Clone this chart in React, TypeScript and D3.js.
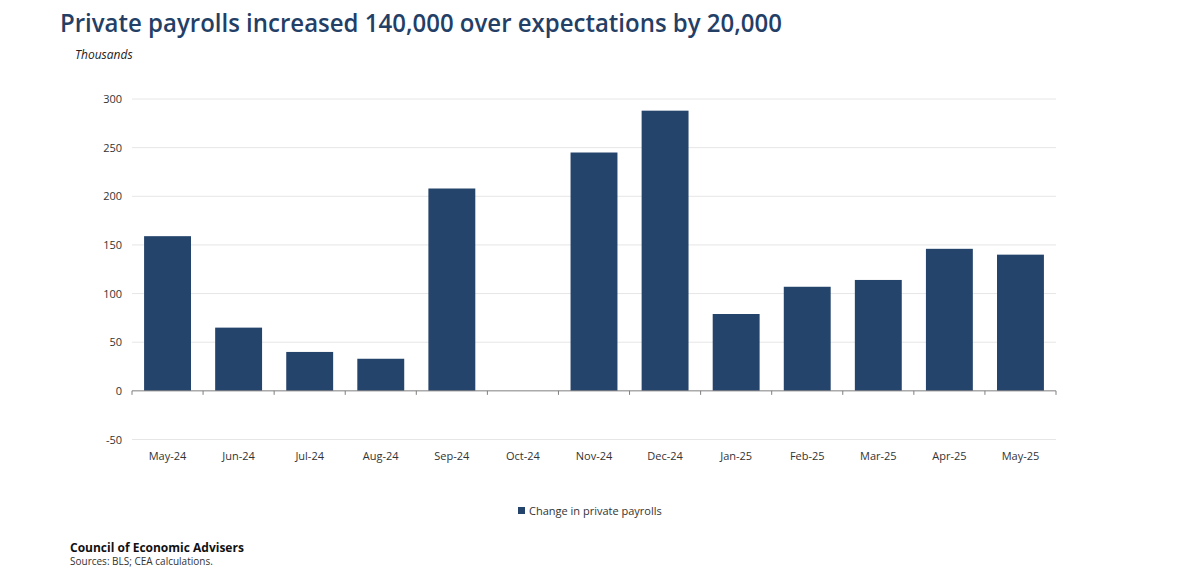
import * as d3 from "d3"
import { useEffect, useRef } from "react"

const months = [
  "May-24", "Jun-24", "Jul-24", "Aug-24", "Sep-24", "Oct-24", "Nov-24",
  "Dec-24", "Jan-25", "Feb-25", "Mar-25", "Apr-25", "May-25",
]
const privatePayrolls = [159, 65, 40, 33, 208, 0, 245, 288, 79, 107, 114, 146, 140]
const yTicks = [-50, 0, 50, 100, 150, 200, 250, 300]

const titleText = "Private payrolls increased 140,000 over expectations by 20,000"
const seriesName = "Change in private payrolls"

const W = 1200
const H = 570
const FONT = "'Open Sans', 'Noto Sans', sans-serif"
const BAR = "#25446b"
const NAVY = "#243f66"

export default function App() {
  const svgRef = useRef<SVGSVGElement | null>(null)

  useEffect(() => {
    if (!svgRef.current) return
    const svg = d3.select(svgRef.current)
    svg.selectAll("*").remove()

    const left = 132
    const right = 1056
    const x = d3.scaleBand().domain(months).range([left, right]).paddingInner(0.34).paddingOuter(0.17)
    const y = d3.scaleLinear().domain([-50, 300]).range([439.5, 99])

    // gridlines
    svg
      .append("g")
      .selectAll("line")
      .data(yTicks.filter((t) => t !== 0))
      .enter()
      .append("line")
      .attr("x1", left)
      .attr("x2", right)
      .attr("y1", (d) => y(d))
      .attr("y2", (d) => y(d))
      .attr("stroke", "#e6e6e6")
      .attr("stroke-width", 1)

    // y labels
    svg
      .append("g")
      .selectAll("text")
      .data(yTicks)
      .enter()
      .append("text")
      .attr("x", 122)
      .attr("y", (d) => y(d) + 4)
      .attr("text-anchor", "end")
      .attr("fill", "#333")
      .style("font", `11px ${FONT}`)
      .text((d) => d)

    // bars
    svg
      .append("g")
      .selectAll("rect")
      .data(privatePayrolls)
      .enter()
      .append("rect")
      .attr("x", (_, i) => x(months[i])!)
      .attr("width", x.bandwidth())
      .attr("y", (d) => y(Math.max(0, d)))
      .attr("height", (d) => Math.abs(y(d) - y(0)))
      .attr("fill", BAR)

    // zero axis with ticks between categories
    const band = (right - left) / months.length
    svg
      .append("line")
      .attr("x1", left)
      .attr("x2", right)
      .attr("y1", y(0))
      .attr("y2", y(0))
      .attr("stroke", "#7f7f7f")
      .attr("stroke-width", 1)
    svg
      .append("g")
      .selectAll("line")
      .data(d3.range(months.length + 1))
      .enter()
      .append("line")
      .attr("x1", (i) => left + i * band)
      .attr("x2", (i) => left + i * band)
      .attr("y1", y(0))
      .attr("y2", y(0) + 4)
      .attr("stroke", "#7f7f7f")

    // x labels
    svg
      .append("g")
      .selectAll("text")
      .data(months)
      .enter()
      .append("text")
      .attr("x", (d) => x(d)! + x.bandwidth() / 2)
      .attr("y", 460)
      .attr("text-anchor", "middle")
      .attr("fill", "#333")
      .style("font", `11px ${FONT}`)
      .text((d) => d)

    // legend
    svg.append("rect").attr("x", 518).attr("y", 507).attr("width", 7).attr("height", 7).attr("fill", BAR)
    svg
      .append("text")
      .attr("x", 529)
      .attr("y", 514.5)
      .attr("fill", "#333")
      .style("font", `11px ${FONT}`)
      .text(seriesName)

    // title & subtitle
    svg
      .append("text")
      .attr("x", 60)
      .attr("y", 32)
      .attr("fill", NAVY)
      .attr("textLength", 722)
      .attr("lengthAdjust", "spacingAndGlyphs")
      .style("font", `600 26px ${FONT}`)
      .text(titleText)
    svg
      .append("text")
      .attr("x", 75)
      .attr("y", 59)
      .attr("fill", "#222")
      .style("font", `italic 12px ${FONT}`)
      .text("Thousands")

    // footer
    svg
      .append("text")
      .attr("x", 70)
      .attr("y", 552)
      .attr("fill", "#111")
      .style("font", `bold 12px ${FONT}`)
      .text("Council of Economic Advisers")
    svg
      .append("text")
      .attr("x", 70)
      .attr("y", 565)
      .attr("fill", "#333")
      .style("font", `10px ${FONT}`)
      .text("Sources: BLS; CEA calculations.")
  }, [])

  return (
    <div style={{ position: "absolute", left: 0, top: 0 }}>
      <svg ref={svgRef} width={W} height={H} style={{ display: "block", background: "#fff" }} />
    </div>
  )
}
